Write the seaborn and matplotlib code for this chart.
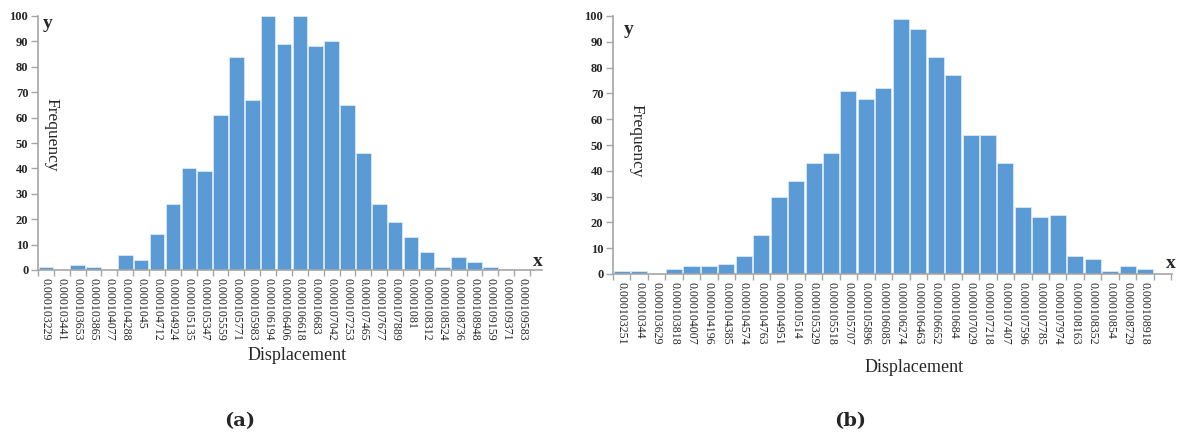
import numpy as np
import pandas as pd
import matplotlib
matplotlib.use("Agg")
import matplotlib.pyplot as plt
import seaborn as sns

sns.set_style("white")

labels_a = ["0.000103229", "0.000103441", "0.000103653", "0.000103865", "0.000104077",
            "0.000104288", "0.0001045", "0.000104712", "0.000104924", "0.000105135",
            "0.000105347", "0.000105559", "0.000105771", "0.000105983", "0.000106194",
            "0.000106406", "0.000106618", "0.00010683", "0.000107042", "0.000107253",
            "0.000107465", "0.000107677", "0.000107889", "0.0001081", "0.000108312",
            "0.000108524", "0.000108736", "0.000108948", "0.000109159", "0.000109371",
            "0.000109583"]
freq_a = [1, 0, 2, 1, 0, 6, 4, 14, 26, 40, 39, 61, 84, 67, 100, 89, 100, 88, 90, 65,
          46, 26, 19, 13, 7, 1, 5, 3, 1, 0, 0]

labels_b = ["0.000103251", "0.00010344", "0.000103629", "0.000103818", "0.000104007",
            "0.000104196", "0.000104385", "0.000104574", "0.000104763", "0.000104951",
            "0.00010514", "0.000105329", "0.000105518", "0.000105707", "0.000105896",
            "0.000106085", "0.000106274", "0.000106463", "0.000106652", "0.00010684",
            "0.000107029", "0.000107218", "0.000107407", "0.000107596", "0.000107785",
            "0.000107974", "0.000108163", "0.000108352", "0.00010854", "0.000108729",
            "0.000108918", " "]
freq_b = [1, 1, 0, 2, 3, 3, 4, 7, 15, 30, 36, 43, 47, 71, 68, 72, 99, 95, 84, 77,
          54, 54, 43, 26, 22, 23, 7, 6, 1, 3, 2, 0]

yticks = list(range(0, 101, 10))

W, H = 1179, 437
fig = plt.figure(figsize=(W / 100, H / 100), dpi=100)

BAR = "#5B9BD5"
AXC = "#A6A6A6"
serif = "Liberation Serif"


def px_axes(x0, x1, ytop, ybot):
    return fig.add_axes([x0 / W, 1 - ybot / H, (x1 - x0) / W, (ybot - ytop) / H])


def panel(ax, labels, freq, extra, ylab_pos, xlab_pos, y_pos, x_pos, tag, tag_pos):
    df = pd.DataFrame({"label": labels, "freq": freq})
    sns.barplot(data=df, x="label", y="freq", order=labels, color=BAR,
                saturation=1, width=0.92, edgecolor="#DCE8F5", linewidth=0.6, ax=ax)
    n = len(labels)
    ax.set_xlim(-0.5, n - 0.5 + extra)
    ax.set_ylim(0, 100)
    ax.set_yticks(yticks)
    ax.set_yticklabels([str(v) for v in yticks], fontfamily=serif,
                       fontweight="bold", fontsize=9)
    ax.set_xticks(range(n))
    ax.set_xticklabels(labels, rotation=-90, fontfamily=serif, fontsize=8.6)
    ax.set_xticks(np.arange(-0.5, n, 1.0), minor=True)
    ax.tick_params(axis="x", which="major", bottom=True, length=0, pad=6)
    ax.tick_params(axis="x", which="minor", bottom=True, length=4, color=AXC,
                   width=1, direction="out")
    ax.tick_params(axis="y", left=True, length=5, color=AXC, width=1,
                   direction="out", pad=2)
    ax.set_xlabel("")
    ax.set_ylabel("")
    for s in ["top", "right"]:
        ax.spines[s].set_visible(False)
    for s in ["left", "bottom"]:
        ax.spines[s].set_color(AXC)
        ax.spines[s].set_linewidth(1.2)
    fig.text(ylab_pos[0] / W, 1 - ylab_pos[1] / H, "Frequency", rotation=-90,
             fontfamily=serif, fontsize=12.5, ha="center", va="center")
    fig.text(xlab_pos[0] / W, 1 - xlab_pos[1] / H, "Displacement",
             fontfamily=serif, fontsize=13, ha="center", va="center")
    fig.text(y_pos[0] / W, 1 - y_pos[1] / H, "y", fontfamily=serif,
             fontweight="bold", fontsize=14, ha="center", va="center")
    fig.text(x_pos[0] / W, 1 - x_pos[1] / H, "x", fontfamily=serif,
             fontweight="bold", fontsize=14, ha="center", va="center")
    fig.text(tag_pos[0] / W, 1 - tag_pos[1] / H, tag, fontfamily="DejaVu Serif",
             fontweight="bold", fontsize=14, ha="center", va="center")


ax_a = px_axes(38, 542, 16, 270)
panel(ax_a, labels_a, freq_a, 0.75, (51, 135), (297, 356), (48, 24), (538, 261), "(a)", (240, 421))

ax_b = px_axes(613, 1172, 16, 274)
panel(ax_b, labels_b, freq_b, 0.05, (636, 141), (914, 368), (629, 30), (1171, 264), "(b)", (850, 421))

fig.savefig("out.png", dpi=100)
